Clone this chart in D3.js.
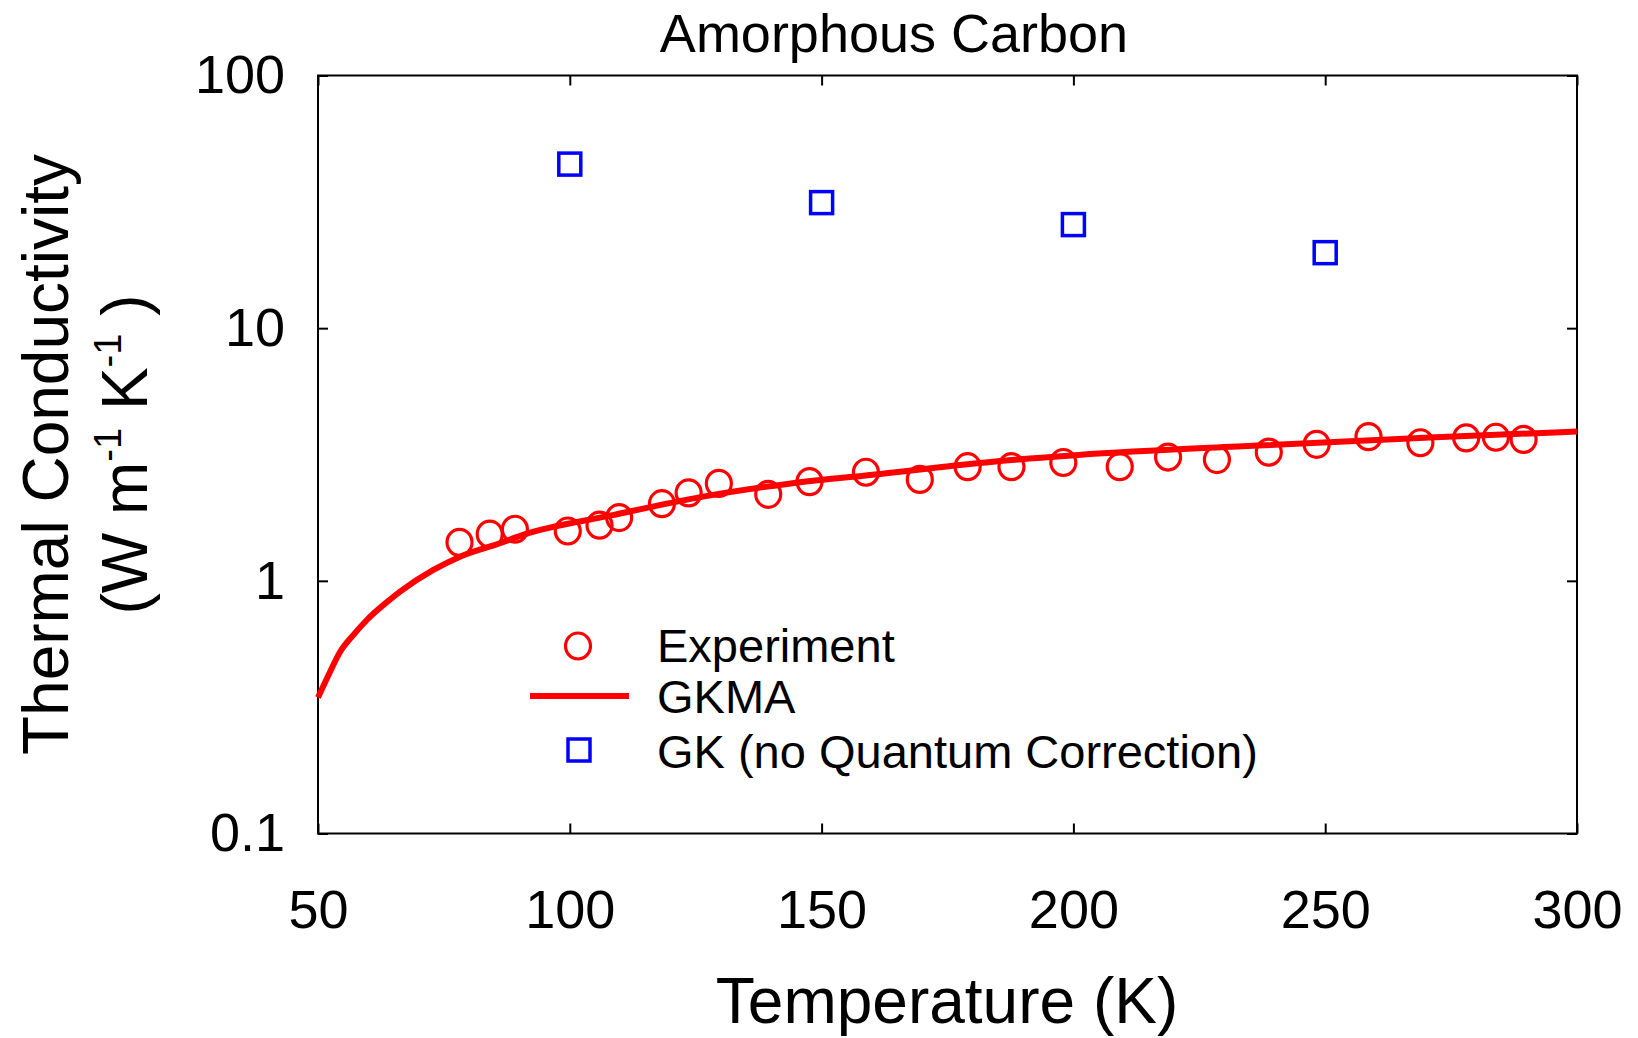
<!DOCTYPE html>
<html>
<head>
<meta charset="utf-8">
<script src="https://cdn.jsdelivr.net/npm/d3@7"></script>
<style>
body { margin: 0; background: #fff; }
text { font-family: "Liberation Sans", Arial, sans-serif; fill: #000; }
</style>
</head>
<body>
<div id="chart"></div>
<script>
// experiment (red circles)
var expTemp = [78.1, 84.1, 89.1, 99.6, 105.9, 109.8, 118.3, 123.6, 129.6, 139.4, 147.6, 158.8, 169.5,
    179, 187.7, 198, 209.2, 218.8, 228.5, 238.8, 248.3, 258.6, 268.9, 278, 283.9, 289.4];
var expK = [1.42, 1.53, 1.60, 1.575, 1.66, 1.78, 2.02, 2.23, 2.43, 2.20, 2.47, 2.69, 2.52,
    2.83, 2.83, 2.94, 2.83, 3.09, 3.02, 3.23, 3.47, 3.72, 3.52, 3.68, 3.70, 3.63];

// GKMA (red line)
var gkmaTemp = [50, 52, 54.4, 57, 59.7, 64.2, 66.3, 72.9, 78.2, 86.1, 90.7, 108.5, 126.2, 143.9,
    161.7, 185.4, 201, 236.5, 271.9, 300];
var gkmaK = [0.345, 0.42, 0.524, 0.61, 0.70, 0.84, 0.906, 1.104, 1.246, 1.408, 1.52, 1.82, 2.15, 2.43,
    2.65, 2.98, 3.15, 3.43, 3.70, 3.90];

// GK, no quantum correction (blue squares)
var gkTemp = [100, 150, 200, 250];
var gkK = [44.6, 31.4, 25.7, 19.9];

var xTicks = [50, 100, 150, 200, 250, 300];
var yTicks = [0.1, 1, 10, 100];

var svgWidth = 1638;
var svgHeight = 1038;
var margin = { top: 75.5, right: 61, bottom: 204.5, left: 318 };
var width = svgWidth - margin.left - margin.right;
var height = svgHeight - margin.top - margin.bottom;

var red = "#ff0000";
var blue = "#0000ff";

var svg = d3.select("#chart")
    .append("svg")
    .attr("width", svgWidth)
    .attr("height", svgHeight);

var chartGroup = svg.append("g")
    .attr("transform", `translate(${margin.left}, ${margin.top})`);

var xScale = d3.scaleLinear().domain([50, 300]).range([0, width]);
var yScale = d3.scaleLog().domain([0.1, 100]).range([height, 0]);

// axes: inward ticks on all four sides
var bottomAxis = d3.axisBottom(xScale).tickValues(xTicks).tickSizeInner(-10).tickSizeOuter(0).tickPadding(56);
var topAxis = d3.axisTop(xScale).tickValues(xTicks).tickSizeInner(-10).tickSizeOuter(0).tickFormat("");
var leftAxis = d3.axisLeft(yScale).tickValues(yTicks).tickSizeInner(-10).tickSizeOuter(0).tickPadding(33)
    .tickFormat(d => String(d));
var rightAxis = d3.axisRight(yScale).tickValues(yTicks).tickSizeInner(-10).tickSizeOuter(0).tickFormat("");

function styleAxis(g) {
    g.select(".domain").remove();
    g.selectAll("line").attr("stroke", "#000").attr("stroke-width", 2);
    g.selectAll("text").style("font-size", "54px").attr("fill", "#000");
}

chartGroup.append("g").attr("transform", `translate(0, ${height})`).call(bottomAxis).call(styleAxis);
chartGroup.append("g").call(topAxis).call(styleAxis);
chartGroup.append("g").call(leftAxis).call(styleAxis);
chartGroup.append("g").attr("transform", `translate(${width}, 0)`).call(rightAxis).call(styleAxis);

chartGroup.append("rect")
    .attr("width", width)
    .attr("height", height)
    .attr("fill", "none")
    .attr("stroke", "#000")
    .attr("stroke-width", 2);

// GKMA line
var gkmaData = gkmaTemp.map((t, i) => ({ t: t, k: gkmaK[i] }));
var line = d3.line()
    .x(d => xScale(d.t))
    .y(d => yScale(d.k))
    .curve(d3.curveMonotoneX);

chartGroup.append("path")
    .datum(gkmaData)
    .attr("d", line)
    .attr("fill", "none")
    .attr("stroke", red)
    .attr("stroke-width", 6);

// experiment circles
var expData = expTemp.map((t, i) => ({ t: t, k: expK[i] }));
chartGroup.append("g").selectAll("ellipse")
    .data(expData)
    .enter()
    .append("ellipse")
    .attr("cx", d => xScale(d.t))
    .attr("cy", d => yScale(d.k))
    .attr("rx", 12.5)
    .attr("ry", 13)
    .attr("fill", "none")
    .attr("stroke", red)
    .attr("stroke-width", 3.2);

// GK squares
var sq = 22;
var gkData = gkTemp.map((t, i) => ({ t: t, k: gkK[i] }));
chartGroup.append("g").selectAll("rect")
    .data(gkData)
    .enter()
    .append("rect")
    .attr("x", d => xScale(d.t) - sq / 2)
    .attr("y", d => yScale(d.k) - sq / 2)
    .attr("width", sq)
    .attr("height", sq)
    .attr("fill", "none")
    .attr("stroke", blue)
    .attr("stroke-width", 3.5);

// title
svg.append("text")
    .attr("x", 894)
    .attr("y", 52)
    .attr("text-anchor", "middle")
    .style("font-size", "54px")
    .text("Amorphous Carbon");

// x label
svg.append("text")
    .attr("x", 947)
    .attr("y", 1023)
    .attr("text-anchor", "middle")
    .style("font-size", "64px")
    .text("Temperature (K)");

// y label, two lines
var yLabel = svg.append("g")
    .attr("transform", `translate(0, ${margin.top + height / 2}) rotate(-90)`);

yLabel.append("text")
    .attr("x", 0)
    .attr("y", 68)
    .attr("text-anchor", "middle")
    .style("font-size", "64px")
    .text("Thermal Conductivity");

var unitText = yLabel.append("text")
    .attr("x", 0)
    .attr("y", 147)
    .attr("text-anchor", "middle")
    .style("font-size", "64px");
unitText.append("tspan").text("(W m");
unitText.append("tspan").attr("dy", -26).style("font-size", "38px").text("-1");
unitText.append("tspan").attr("dy", 26).text(" K");
unitText.append("tspan").attr("dy", -26).style("font-size", "38px").text("-1");
unitText.append("tspan").attr("dy", 26).text(" )");

// legend
var legend = svg.append("g");
var legendFont = "47px";

legend.append("ellipse")
    .attr("cx", 578).attr("cy", 646).attr("rx", 12.5).attr("ry", 13)
    .attr("fill", "none").attr("stroke", red).attr("stroke-width", 3.2);
legend.append("text")
    .attr("x", 657).attr("y", 662)
    .style("font-size", legendFont)
    .text("Experiment");

legend.append("line")
    .attr("x1", 530).attr("x2", 629).attr("y1", 696).attr("y2", 696)
    .attr("stroke", red).attr("stroke-width", 6);
legend.append("text")
    .attr("x", 657).attr("y", 713)
    .style("font-size", legendFont)
    .text("GKMA");

legend.append("rect")
    .attr("x", 579 - sq / 2).attr("y", 750 - sq / 2).attr("width", sq).attr("height", sq)
    .attr("fill", "none").attr("stroke", blue).attr("stroke-width", 3.5);
legend.append("text")
    .attr("x", 657).attr("y", 768)
    .style("font-size", legendFont)
    .text("GK (no Quantum Correction)");
</script>
</body>
</html>
